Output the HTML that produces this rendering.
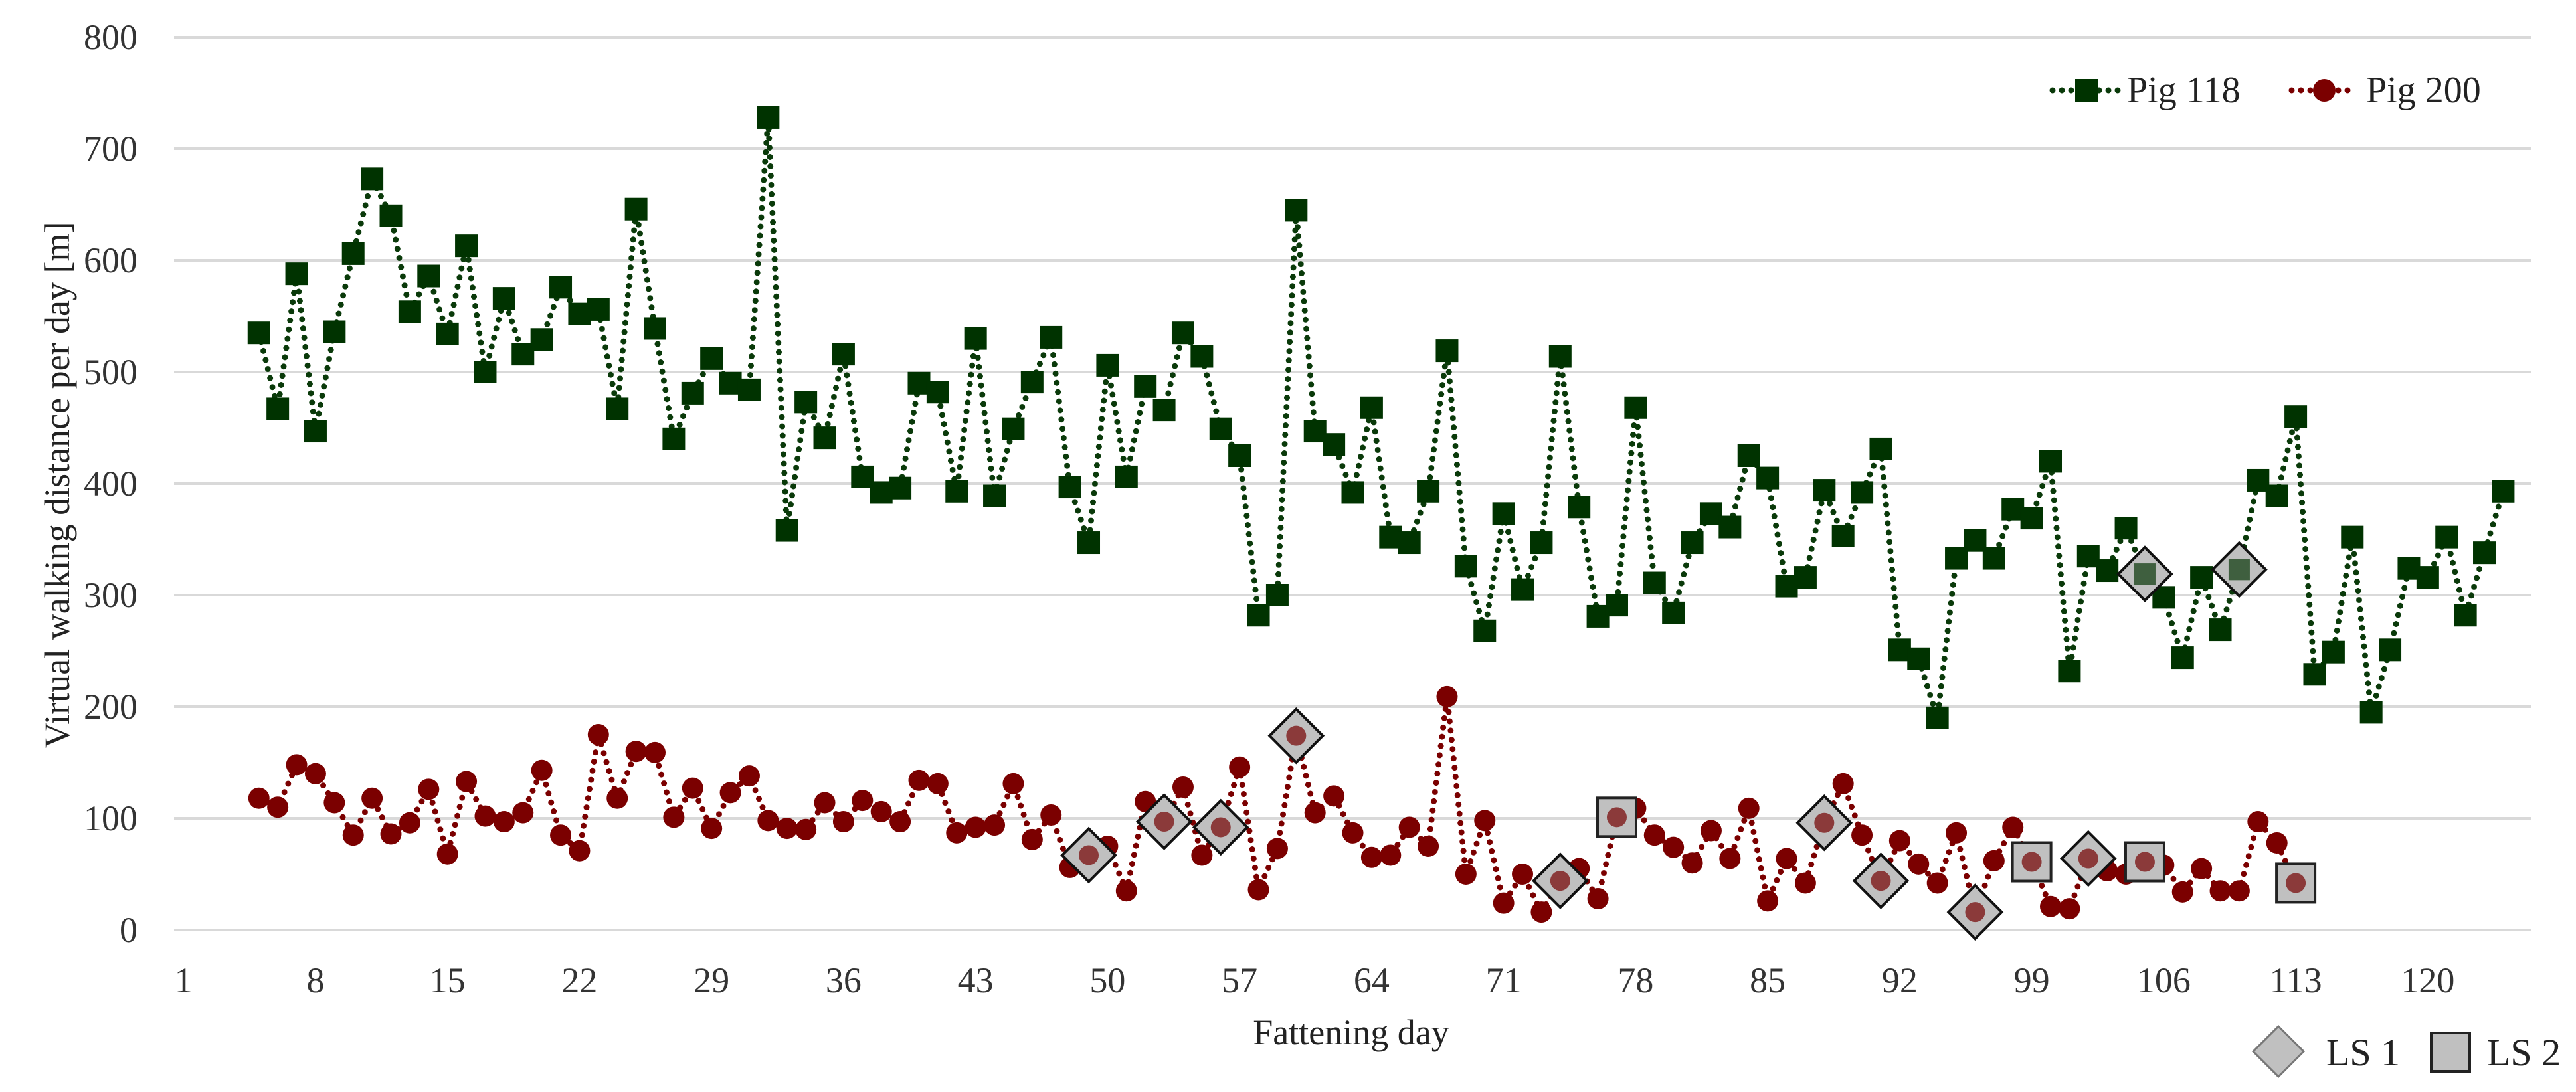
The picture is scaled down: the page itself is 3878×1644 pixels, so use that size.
<!DOCTYPE html>
<html><head><meta charset="utf-8"><style>
html,body{margin:0;padding:0;background:#fff;}
svg{display:block;font-family:"Liberation Serif",serif;}
</style></head><body>
<svg id="chart" width="3878" height="1644" viewBox="0 0 3878 1644" xmlns="http://www.w3.org/2000/svg">
<g id="grid"></g>
<g id="yticks"></g>
<g id="xticks"></g>
<g id="series"></g>
<g id="ls"></g>
<text x="0" y="0" transform="translate(104,730) rotate(-90)" text-anchor="middle" font-size="54" fill="#222">Virtual walking distance per day [m]</text>
<text x="2034" y="1572" text-anchor="middle" font-size="54" fill="#222">Fattening day</text>
<g>
<line x1="3090" y1="136" x2="3190" y2="136" stroke="#0a3a0a" stroke-width="9" stroke-linecap="round" stroke-dasharray="0 14"/>
<rect x="3124" y="119" width="34" height="34" fill="#003300"/>
<text x="3202" y="154" font-size="56" fill="#222">Pig 118</text>
</g>
<g>
<line x1="3450" y1="136" x2="3548" y2="136" stroke="#7b0000" stroke-width="9" stroke-linecap="round" stroke-dasharray="0 14"/>
<circle cx="3499" cy="136" r="17" fill="#7b0000"/>
<text x="3562" y="154" font-size="56" fill="#222">Pig 200</text>
</g>
<g>
<polygon points="3430,1545 3468,1583 3430,1621 3392,1583" fill="#c0c0c0" stroke="#777" stroke-width="3"/>
<text x="3502" y="1604" font-size="58" fill="#222">LS 1</text>
</g>
<g>
<rect x="3660" y="1555" width="58" height="58" fill="#c0c0c0" stroke="#222" stroke-width="4"/>
<text x="3744" y="1604" font-size="58" fill="#222">LS 2</text>
</g>
</svg>
<script>
const yTicks = [0,100,200,300,400,500,600,700,800];
const xTickLabels = [1,8,15,22,29,36,43,50,57,64,71,78,85,92,99,106,113,120];
const startDayPig118 = 5;
const pig118 = [535,467,588,447,536,606,673,640,554,586,534,613,500,566,516,529,576,552,556,467,646,539,440,481,512,490,484,728,358,473,441,516,406,392,396,490,482,393,530,389,449,491,531,397,347,506,406,487,466,535,514,449,425,282,300,645,447,435,392,468,352,347,393,519,326,268,373,305,347,514,379,281,291,468,311,284,347,373,361,425,405,308,316,394,353,392,431,251,243,190,333,349,333,377,369,420,232,335,322,360,319,298,244,316,269,323,403,389,460,229,249,352,195,251,324,316,352,282,338,393];
const startDayPig200 = 5;
const pig200 = [118,110,148,140,114,85,118,86,96,126,68,133,102,97,105,143,85,71,175,118,160,159,101,127,91,123,138,98,91,90,114,97,116,106,97,134,131,87,92,94,131,81,103,56,67,75,35,115,97,128,67,92,146,36,73,174,105,120,87,65,67,92,75,209,50,98,24,50,16,44,55,28,101,109,85,74,60,89,64,109,26,64,42,96,131,85,44,80,59,42,87,16,62,92,61,21,19,64,53,50,61,58,34,55,35,35,97,78,42];
const ls1Pig200Days = [49,53,56,60,74,88,91,96,102];
const ls2Pig200Days = [77,99,105,113];
const ls1Pig118Days = [105,110];

const NS="http://www.w3.org/2000/svg";
const left=262,right=3811,nCat=125,y0=1400,yTop=56;
const cw=(right-left)/nCat;
function xs(d){return left+(d-0.5)*cw;}
function ys(v){return y0-(v/800)*(y0-yTop);}
function mk(tag,attrs,parent){const e=document.createElementNS(NS,tag);for(const k in attrs)e.setAttribute(k,attrs[k]);parent.appendChild(e);return e;}
const grid=document.getElementById('grid'),yt=document.getElementById('yticks'),xt=document.getElementById('xticks'),ser=document.getElementById('series'),ls=document.getElementById('ls');
yTicks.forEach(v=>{
  const l=mk('line',{x1:left,x2:right,y1:ys(v),y2:ys(v),stroke:'#d9d9d9','stroke-width':4},grid);
  
  
  const t=mk('text',{x:207,y:ys(v)+18,'text-anchor':'end','font-size':54,fill:'#333'},yt);
  t.textContent=v;
  
  
});
xTickLabels.forEach(d=>{
  const t=mk('text',{x:xs(d),y:1494,'text-anchor':'middle','font-size':54,fill:'#333'},xt);
  t.textContent=d;
  
  
});
function valAt(arr,start,d){return arr[d-start];}
function drawSeries(arr,start,color,mcolor,shape,name){
  const pts=arr.map((v,i)=>xs(start+i)+','+ys(v)).join(' ');
  const pl=mk('polyline',{points:pts,fill:'none',stroke:color,'stroke-width':9,'stroke-linecap':'round','stroke-dasharray':'0 14'},ser);
  
  
  arr.forEach((v,i)=>{
    const x=xs(start+i),y=ys(v);
    let m;
    if(shape==='square') m=mk('rect',{x:x-17,y:y-17,width:34,height:34,fill:mcolor},ser);
    else m=mk('circle',{cx:x,cy:y,r:16,fill:mcolor},ser);
    
    
  });
}
drawSeries(pig118,startDayPig118,'#0a3a0a','#003300','square','pig-118');
drawSeries(pig200,startDayPig200,'#7b0000','#7b0000','circle','pig-200');
function diamond(x,y,inner,innerShape,name){
  const h=40;
  const p=mk('polygon',{points:`${x},${y-h} ${x+h},${y} ${x},${y+h} ${x-h},${y}`,fill:'#c0c0c0',stroke:'#111','stroke-width':4},ls);
  
  
  innerMark(x,y,inner,innerShape);
}
function square(x,y,inner,innerShape,name){
  const s=29;
  const r=mk('rect',{x:x-s,y:y-s,width:2*s,height:2*s,fill:'#c0c0c0',stroke:'#222','stroke-width':4},ls);
  
  
  innerMark(x,y,inner,innerShape);
}
function innerMark(x,y,c,shape){
  if(shape==='square') mk('rect',{x:x-16,y:y-16,width:32,height:32,fill:c},ls);
  else mk('circle',{cx:x,cy:y,r:15,fill:c},ls);
}
ls1Pig200Days.forEach(d=>diamond(xs(d),ys(valAt(pig200,startDayPig200,d)),'#8b3a3a','circle','ls1-pig200-day-'+d));
ls2Pig200Days.forEach(d=>square(xs(d),ys(valAt(pig200,startDayPig200,d)),'#8b3a3a','circle','ls2-pig200-day-'+d));
ls1Pig118Days.forEach(d=>diamond(xs(d),ys(valAt(pig118,startDayPig118,d)),'#3f5f3f','square','ls1-pig118-day-'+d));
</script>
</body></html>
